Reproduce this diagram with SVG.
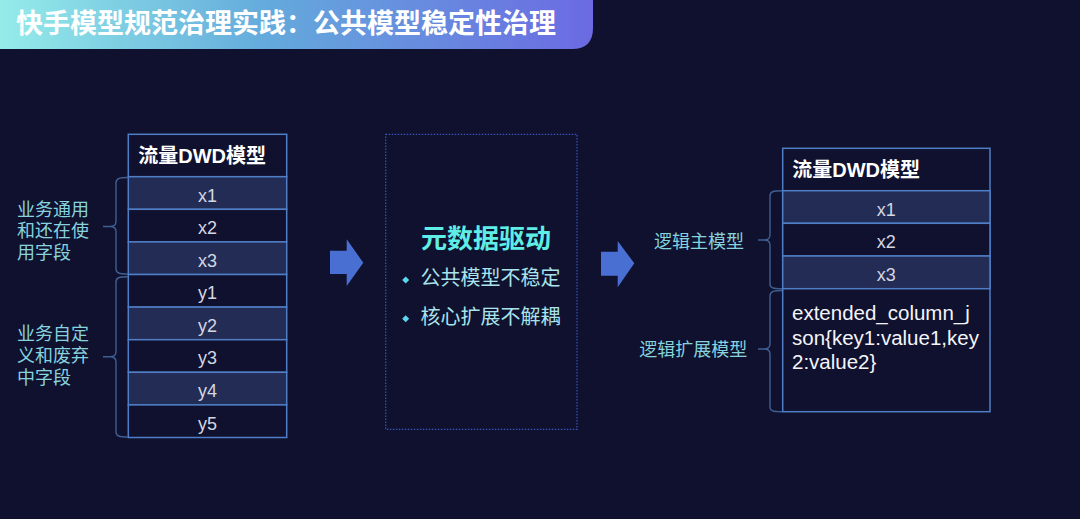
<svg xmlns="http://www.w3.org/2000/svg" width="1080" height="519" viewBox="0 0 1080 519">
<defs>
<linearGradient id="bannerGrad" x1="0" y1="0" x2="1" y2="0">
<stop offset="0" stop-color="#94ece9"/>
<stop offset="0.45" stop-color="#64aadc"/>
<stop offset="1" stop-color="#6b6ae2"/>
</linearGradient>
<style>
.cjk{font-family:"Liberation Sans","Noto Sans CJK SC",sans-serif;}
.hdr{font-size:20px;font-weight:700;fill:#ffffff;}
.cell{font-size:18px;fill:#d4d7e2;text-anchor:middle;}
.lbl{font-size:18px;fill:#86d3de;}
.rowA{fill:#232c54;stroke:#4f7ec6;stroke-width:1.5;}
.rowB{fill:#10112e;stroke:#4f7ec6;stroke-width:1.5;}
.brace{fill:none;stroke:#3f5f93;stroke-width:1.4;}
.arrow{fill:#4a6fd2;}
.bul{font-size:20px;fill:#a9e3ec;}
.dia{fill:#5bd6ee;}
.ext{font-size:20.5px;fill:#f4f5fa;}
</style>
</defs>
<rect x="0" y="0" width="1080" height="519" fill="#10112e"/>

<g id="banner">
<path d="M0,0 H593 V28 Q593,49 572,49 H0 Z" fill="url(#bannerGrad)"/>
<text class="cjk" x="16" y="33" font-size="27" font-weight="700" fill="#ffffff">快手模型规范治理实践：公共模型稳定性治理</text>
</g>

<g id="left-table">
<rect class="rowB" x="128.3" y="134.3" width="158.4" height="42.4"/>
<text class="cjk hdr" x="138.3" y="162.5">流量DWD模型</text>
<rect class="rowA" x="128.3" y="176.7" width="158.4" height="32.6"/>
<rect class="rowB" x="128.3" y="209.3" width="158.4" height="32.6"/>
<rect class="rowA" x="128.3" y="241.9" width="158.4" height="32.6"/>
<rect class="rowB" x="128.3" y="274.5" width="158.4" height="32.6"/>
<rect class="rowA" x="128.3" y="307.1" width="158.4" height="32.6"/>
<rect class="rowB" x="128.3" y="339.7" width="158.4" height="32.6"/>
<rect class="rowA" x="128.3" y="372.3" width="158.4" height="32.6"/>
<rect class="rowB" x="128.3" y="404.9" width="158.4" height="32.6"/>
<text class="cjk cell" x="207.5" y="201.5">x1</text>
<text class="cjk cell" x="207.5" y="234">x2</text>
<text class="cjk cell" x="207.5" y="266.6">x3</text>
<text class="cjk cell" x="207.5" y="299.2">y1</text>
<text class="cjk cell" x="207.5" y="331.8">y2</text>
<text class="cjk cell" x="207.5" y="364.4">y3</text>
<text class="cjk cell" x="207.5" y="397">y4</text>
<text class="cjk cell" x="207.5" y="429.6">y5</text>
</g>

<g id="left-label-1">
<text class="cjk lbl" x="17" y="215.5">业务通用</text>
<text class="cjk lbl" x="17" y="237">和还在使</text>
<text class="cjk lbl" x="17" y="258.5">用字段</text>
</g>
<g id="left-label-2">
<text class="cjk lbl" x="17" y="339.5">业务自定</text>
<text class="cjk lbl" x="17" y="361.5">义和废弃</text>
<text class="cjk lbl" x="17" y="383.5">中字段</text>
</g>

<g id="middle-box">
<rect x="385.7" y="134.3" width="191.3" height="295" fill="none" stroke="#3356b8" stroke-width="1.2" stroke-dasharray="1.5,1.5"/>
<text class="cjk" x="486" y="248" font-size="26" font-weight="700" fill="#5eeee6" text-anchor="middle">元数据驱动</text>
<path class="dia" d="M405.7,276.5 L409.2,280 L405.7,283.5 L402.2,280 Z"/>
<text class="cjk bul" x="420.5" y="285">公共模型不稳定</text>
<path class="dia" d="M405.7,315.2 L409.2,318.7 L405.7,322.2 L402.2,318.7 Z"/>
<text class="cjk bul" x="420.5" y="324">核心扩展不解耦</text>
</g>

<g id="right-table">
<rect class="rowB" x="782.7" y="148.3" width="207.3" height="263.4"/>
<rect class="rowA" x="782.7" y="190.7" width="207.3" height="32.6"/>
<rect class="rowB" x="782.7" y="223.3" width="207.3" height="32.7"/>
<rect class="rowA" x="782.7" y="256" width="207.3" height="32.7"/>
<text class="cjk hdr" x="792.3" y="177">流量DWD模型</text>
<text class="cjk cell" x="886.3" y="215.5">x1</text>
<text class="cjk cell" x="886.3" y="248">x2</text>
<text class="cjk cell" x="886.3" y="280.7">x3</text>
<text class="cjk ext" x="792" y="320">extended_column_j</text>
<text class="cjk ext" x="792" y="344.5">son{key1:value1,key</text>
<text class="cjk ext" x="792" y="369">2:value2}</text>
</g>

<g id="right-label-1">
<text class="cjk lbl" x="654" y="247.5">逻辑主模型</text>
</g>
<g id="right-label-2">
<text class="cjk lbl" x="639.3" y="355.8">逻辑扩展模型</text>
</g>

<g id="connectors">
<path class="brace" d="M128,177.5 C119,177.5 116,178.5 116,183 L116,221.5 C116,225 114,226.5 110,226.5 L103,226.5 M110,226.5 C114,226.5 116,228 116,231.5 L116,269 C116,273 119,274 128,274"/>
<path class="brace" d="M128,276.7 C119,276.7 116,277.7 116,282 L116,351.5 C116,355 114,356.8 110,356.8 L103,356.8 M110,356.8 C114,356.8 116,358.5 116,362 L116,432 C116,436 119,437 128,437"/>
<path class="brace" d="M782,190.7 C773,190.7 770,191.7 770,196 L770,235 C770,238.5 768,240 764,240 L758,240 M764,240 C768,240 770,241.5 770,245 L770,284 C770,288 773,288.7 782,288.7"/>
<path class="brace" d="M782,290.5 C773,290.5 770,291.5 770,296 L770,344 C770,347.5 768,349 764,349 L758,349 M764,349 C768,349 770,350.5 770,354 L770,407 C770,411 773,411.7 782,411.7"/>
<path class="arrow" d="M330,250.7 L346.7,250.7 L346.7,239.3 L363.3,262.7 L346.7,286 L346.7,274 L330,274 Z"/>
<path class="arrow" d="M601,251.7 L617.7,251.7 L617.7,241 L634.3,263.3 L617.7,287.3 L617.7,275.7 L601,275.7 Z"/>
</g>
</svg>
